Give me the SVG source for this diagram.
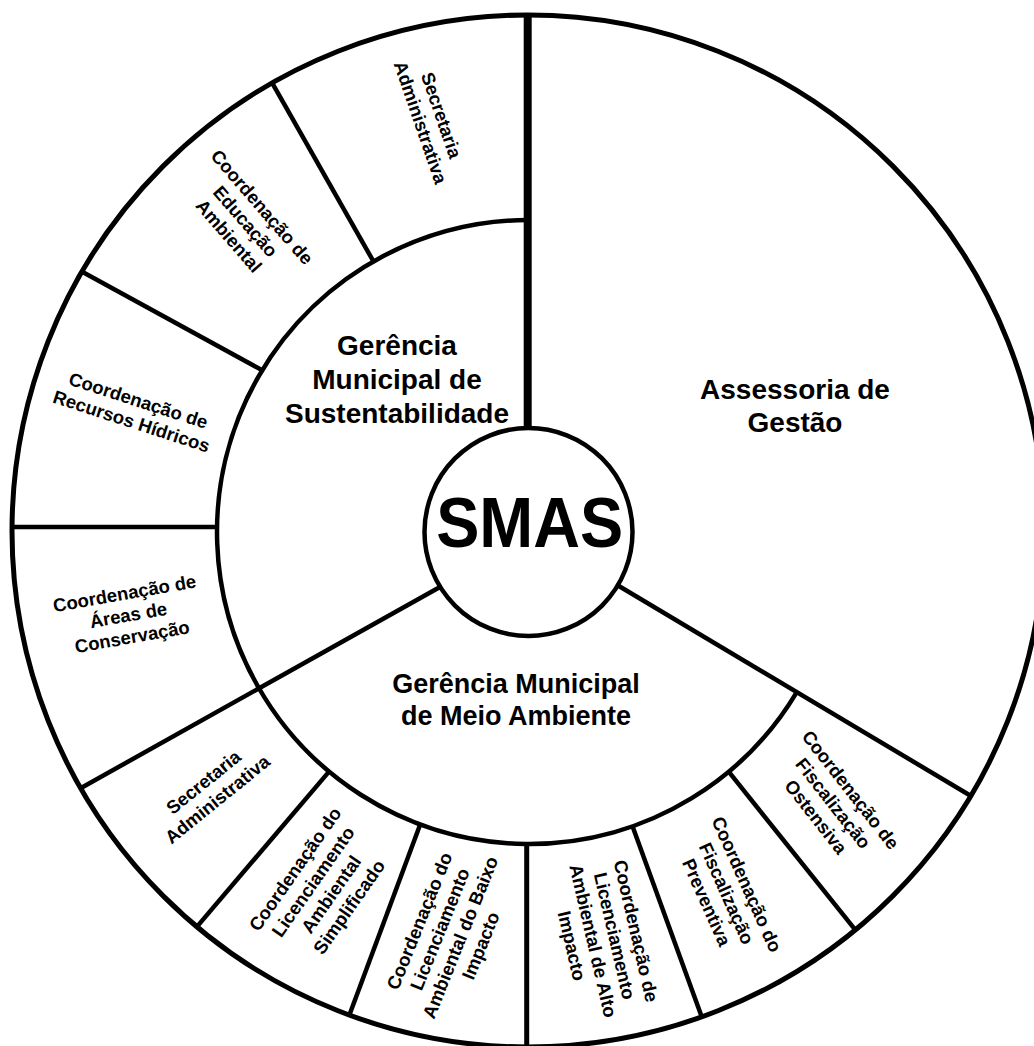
<svg xmlns="http://www.w3.org/2000/svg" width="1034" height="1046" viewBox="0 0 1034 1046">
<style>
.ln{stroke:#000;stroke-width:4.5;fill:none;stroke-linecap:butt}
.t{font-family:"Liberation Sans",Arial,sans-serif;font-weight:bold;fill:#000;text-anchor:middle}
.s{font-size:18.5px}
.m{font-size:28px}
</style>
<rect x="0" y="0" width="1034" height="1046" fill="#fff"/>
<g id="dividers">
  <circle class="ln" cx="528" cy="531" r="516" style="stroke-width:5"/>
  <path class="ln" d="M796.8 692.1 A312 312 0 1 1 527.7 220"/>
  <line class="ln" x1="527.7" y1="14" x2="527.7" y2="428" style="stroke-width:8"/>
  <line class="ln" x1="618" y1="585.5" x2="971" y2="796"/>
  <line class="ln" x1="440" y1="587" x2="81" y2="788"/>
  <line class="ln" x1="13" y1="527" x2="218" y2="527"/>
  <line class="ln" x1="82.6" y1="272" x2="261.7" y2="370"/>
  <line class="ln" x1="272" y1="82.6" x2="373.6" y2="261.7"/>
  <line class="ln" x1="728.7" y1="771.7" x2="856.7" y2="931.7"/>
  <line class="ln" x1="632.6" y1="826.4" x2="701.7" y2="1016.7"/>
  <line class="ln" x1="526.7" y1="843" x2="526.7" y2="1046" style="stroke-width:5"/>
  <line class="ln" x1="420" y1="825" x2="349.3" y2="1015.2"/>
  <line class="ln" x1="329" y1="771.6" x2="196.6" y2="927.1"/>
</g>
<g id="smas">
  <circle class="ln" cx="528.5" cy="532" r="104" fill="#fff" style="fill:#fff"/>
  <text class="t" x="529.7" y="546.5" font-size="70" textLength="187" lengthAdjust="spacingAndGlyphs">SMAS</text>
</g>
<g id="assessoria-gestao">
  <text class="t m"><tspan x="795" y="399">Assessoria de</tspan><tspan x="795" y="432">Gestão</tspan></text>
</g>
<g id="gerencia-sustentabilidade">
  <text class="t m"><tspan x="397" y="355">Gerência</tspan><tspan x="397" y="389">Municipal de</tspan><tspan x="397" y="423">Sustentabilidade</tspan></text>
</g>
<g id="gerencia-meio-ambiente">
  <text class="t" style="font-size:27px"><tspan x="516" y="693">Gerência Municipal</tspan><tspan x="516" y="725">de Meio Ambiente</tspan></text>
</g>
<g id="secretaria-adm-sust">
  <text class="t s" transform="translate(431 118.8) rotate(71)"><tspan x="0" y="-4.5">Secretaria</tspan><tspan x="0" y="17.5">Administrativa</tspan></text>
</g>
<g id="coord-educacao-ambiental">
  <text class="t s" transform="translate(245.5 221.4) rotate(49)"><tspan x="0" y="-15.5">Coordenação de</tspan><tspan x="0" y="6.5">Educação</tspan><tspan x="0" y="28.5">Ambiental</tspan></text>
</g>
<g id="coord-recursos-hidricos">
  <text class="t s" transform="translate(135 410.8) rotate(18)"><tspan x="0" y="-4.5">Coordenação de</tspan><tspan x="0" y="17.5">Recursos Hídricos</tspan></text>
</g>
<g id="coord-areas-conservacao">
  <text class="t s" transform="translate(128.3 615) rotate(-10)"><tspan x="0" y="-15.5">Coordenação de</tspan><tspan x="0" y="6.5">Áreas de</tspan><tspan x="0" y="28.5">Conservação</tspan></text>
</g>
<g id="secretaria-adm-meio">
  <text class="t s" transform="translate(210.3 790.7) rotate(-39)"><tspan x="0" y="-4.5">Secretaria</tspan><tspan x="0" y="17.5">Administrativa</tspan></text>
</g>
<g id="coord-lic-simplificado">
  <text class="t s" transform="translate(322 888) rotate(-55)"><tspan x="0" y="-26.5">Coordenação do</tspan><tspan x="0" y="-4.5">Licenciamento</tspan><tspan x="0" y="17.5">Ambiental</tspan><tspan x="0" y="39.5">Simplificado</tspan></text>
</g>
<g id="coord-lic-baixo">
  <text class="t s" transform="translate(450 933.3) rotate(-68)"><tspan x="0" y="-26.5">Coordenação do</tspan><tspan x="0" y="-4.5">Licenciamento</tspan><tspan x="0" y="17.5">Ambiental do Baixo</tspan><tspan x="0" y="39.5">Impacto</tspan></text>
</g>
<g id="coord-lic-alto">
  <text class="t s" transform="translate(604 938.3) rotate(77)"><tspan x="0" y="-26.5">Coordenação de</tspan><tspan x="0" y="-4.5">Licenciamento</tspan><tspan x="0" y="17.5">Ambiental de Alto</tspan><tspan x="0" y="39.5">Impacto</tspan></text>
</g>
<g id="coord-fisc-preventiva">
  <text class="t s" transform="translate(726.7 893.3) rotate(66)"><tspan x="0" y="-15.5">Coordenação do</tspan><tspan x="0" y="6.5">Fiscalização</tspan><tspan x="0" y="28.5">Preventiva</tspan></text>
</g>
<g id="coord-fisc-ostensiva">
  <text class="t s" transform="translate(833.3 803.3) rotate(52)"><tspan x="0" y="-15.5">Coordenação de</tspan><tspan x="0" y="6.5">Fiscalização</tspan><tspan x="0" y="28.5">Ostensiva</tspan></text>
</g>
</svg>
